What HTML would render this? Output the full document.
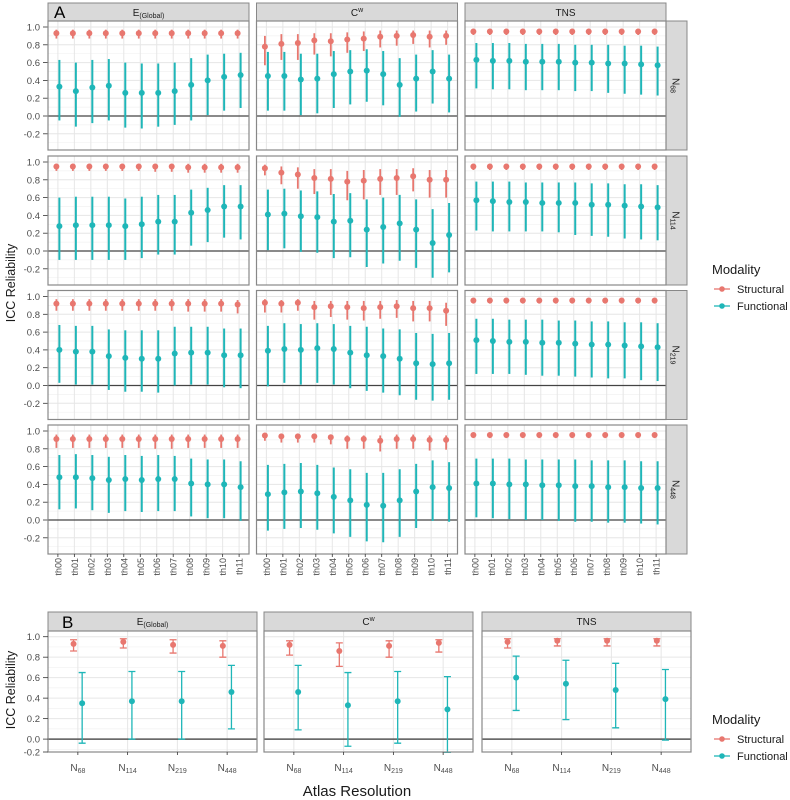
<!DOCTYPE html>
<html><head><meta charset="utf-8"><style>
body{margin:0;background:#fff;}
svg{display:block;font-family:"Liberation Sans",sans-serif;}
</style></head><body>
<svg id="chart" width="790" height="800" viewBox="0 0 790 800"></svg>
<script>
// ---- Panel A data: [row][col][threshold] ; rows N68,N114,N219,N448 ; cols E(Global), Cw, TNS
const thresholds = ["th00","th01","th02","th03","th04","th05","th06","th07","th08","th09","th10","th11"];
const rowLabels = ["68","114","219","448"];
const colLabels = ["E","C","TNS"];
const sMean = [
 [[.93,.93,.93,.93,.93,.93,.93,.93,.93,.93,.93,.93],[.78,.81,.82,.85,.84,.86,.87,.89,.90,.91,.89,.90],[.95,.95,.95,.95,.95,.95,.95,.95,.95,.95,.95,.95]],
 [[.95,.95,.95,.95,.95,.95,.95,.95,.94,.94,.94,.94],[.93,.88,.86,.82,.81,.78,.79,.81,.82,.84,.80,.80],[.95,.95,.95,.95,.95,.95,.95,.95,.95,.95,.95,.95]],
 [[.92,.92,.92,.92,.92,.92,.92,.92,.92,.92,.92,.91],[.93,.92,.93,.88,.89,.88,.87,.88,.89,.87,.87,.84],[.955,.955,.955,.955,.955,.955,.955,.955,.955,.955,.955,.955]],
 [[.91,.91,.91,.91,.91,.91,.91,.91,.91,.91,.91,.91],[.95,.94,.94,.94,.93,.91,.91,.89,.91,.91,.90,.90],[.955,.955,.955,.955,.955,.955,.955,.955,.955,.955,.955,.955]]
];
const sLo = [
 [[.87,.87,.87,.87,.87,.87,.87,.87,.87,.87,.87,.87],[.57,.63,.63,.69,.67,.71,.73,.77,.79,.81,.77,.80],[.91,.91,.91,.91,.91,.91,.91,.91,.91,.91,.91,.91]],
 [[.90,.90,.90,.90,.90,.90,.89,.89,.88,.88,.88,.88],[.85,.75,.70,.64,.63,.57,.58,.63,.63,.67,.60,.60],[.91,.91,.91,.91,.91,.91,.91,.91,.91,.91,.91,.91]],
 [[.84,.84,.84,.84,.84,.84,.84,.84,.83,.83,.83,.81],[.82,.82,.84,.74,.77,.74,.73,.75,.76,.72,.72,.67],[.92,.92,.92,.92,.92,.92,.92,.92,.92,.92,.92,.92]],
 [[.81,.81,.81,.81,.81,.81,.80,.80,.81,.81,.81,.81],[.89,.87,.87,.87,.85,.80,.80,.77,.80,.80,.78,.79],[.92,.92,.92,.92,.92,.92,.92,.92,.92,.92,.92,.92]]
];
const sHi = [
 [[.97,.97,.97,.97,.97,.97,.97,.97,.97,.97,.97,.97],[.90,.92,.92,.93,.93,.94,.95,.96,.96,.96,.96,.96],[.98,.98,.98,.98,.98,.98,.98,.98,.98,.98,.98,.98]],
 [[.98,.98,.98,.98,.98,.98,.98,.98,.98,.98,.98,.98],[.97,.95,.94,.92,.92,.90,.91,.92,.92,.93,.91,.91],[.98,.98,.98,.98,.98,.98,.98,.98,.98,.98,.98,.98]],
 [[.97,.97,.97,.97,.97,.97,.97,.97,.97,.97,.97,.96],[.97,.96,.97,.95,.95,.95,.95,.95,.96,.95,.95,.93],[.98,.98,.98,.98,.98,.98,.98,.98,.98,.98,.98,.98]],
 [[.96,.96,.96,.96,.96,.96,.96,.96,.96,.96,.96,.96],[.97,.96,.96,.96,.96,.95,.95,.95,.96,.96,.95,.95],[.98,.98,.98,.98,.98,.98,.98,.98,.98,.98,.98,.98]]
];
const fMean = [
 [[.33,.28,.32,.34,.26,.26,.26,.28,.35,.40,.44,.46],[.45,.45,.41,.42,.47,.50,.51,.47,.35,.42,.50,.42],[.63,.62,.62,.61,.61,.61,.60,.60,.59,.59,.58,.57]],
 [[.28,.29,.29,.29,.28,.30,.33,.33,.43,.46,.50,.50],[.41,.42,.39,.38,.33,.34,.24,.27,.31,.24,.09,.18],[.57,.56,.55,.55,.54,.54,.54,.52,.52,.51,.50,.49]],
 [[.40,.38,.38,.33,.31,.30,.30,.36,.37,.37,.34,.34],[.39,.41,.40,.42,.41,.37,.34,.33,.30,.25,.24,.25],[.51,.50,.49,.49,.48,.48,.47,.46,.46,.45,.44,.43]],
 [[.48,.48,.47,.45,.46,.45,.46,.46,.41,.40,.40,.37],[.29,.31,.32,.30,.26,.22,.17,.16,.22,.32,.37,.36],[.41,.41,.40,.40,.39,.39,.38,.38,.37,.37,.36,.36]]
];
const fLo = [
 [[-.05,-.12,-.08,-.05,-.13,-.14,-.12,-.10,-.05,.01,.06,.09],[.06,.06,.01,.03,.09,.13,.16,.12,-.01,.05,.14,.04],[.31,.30,.30,.29,.29,.29,.28,.28,.26,.25,.24,.23]],
 [[-.10,-.10,-.10,-.10,-.10,-.08,-.04,-.04,.06,.10,.15,.13],[.01,.03,-.01,-.02,-.08,-.07,-.18,-.14,-.11,-.19,-.30,-.24],[.23,.22,.22,.22,.22,.21,.18,.17,.16,.14,.13,.12]],
 [[.03,.01,.01,-.05,-.07,-.07,-.08,.00,.01,.01,-.02,-.03],[-.01,.03,.01,.03,.01,-.03,-.06,-.08,-.11,-.16,-.17,-.16],[.13,.13,.13,.12,.11,.11,.10,.09,.08,.08,.06,.05]],
 [[.12,.13,.11,.08,.10,.09,.10,.10,.04,.02,.02,-.01],[-.12,-.10,-.09,-.11,-.15,-.19,-.24,-.25,-.19,-.09,-.01,-.02],[.03,.02,.01,.00,.00,-.01,-.02,-.02,-.03,-.03,-.04,-.05]]
];
const fHi = [
 [[.63,.60,.63,.64,.60,.59,.59,.60,.65,.69,.70,.71],[.72,.72,.70,.70,.73,.74,.75,.73,.65,.69,.74,.69],[.82,.82,.82,.81,.81,.81,.80,.80,.80,.79,.79,.78]],
 [[.60,.61,.61,.61,.59,.61,.63,.63,.69,.71,.74,.74],[.69,.70,.68,.67,.64,.65,.58,.60,.63,.58,.47,.54],[.78,.78,.78,.77,.77,.77,.77,.76,.76,.75,.75,.74]],
 [[.68,.67,.67,.63,.62,.62,.62,.66,.66,.66,.64,.64],[.67,.70,.69,.70,.69,.67,.66,.64,.63,.59,.58,.59],[.75,.75,.74,.74,.74,.73,.73,.72,.72,.71,.71,.70]],
 [[.73,.74,.73,.71,.73,.72,.73,.72,.69,.68,.68,.66],[.62,.63,.64,.62,.59,.57,.53,.53,.57,.63,.67,.65],[.69,.69,.69,.68,.68,.68,.68,.67,.67,.67,.66,.66]]
];
// ---- Panel B data: [col][resolution]
const resLabels = ["68","114","219","448"];
const bSMean = [[.93,.95,.92,.91],[.92,.86,.91,.94],[.95,.96,.96,.96]];
const bSLo   = [[.86,.89,.84,.80],[.82,.71,.80,.85],[.89,.91,.91,.91]];
const bSHi   = [[.97,.98,.97,.96],[.96,.94,.96,.97],[.98,.98,.98,.98]];
const bFMean = [[.35,.37,.37,.46],[.46,.33,.37,.29],[.60,.54,.48,.39]];
const bFLo   = [[-.04,.00,.00,.10],[.09,-.07,-.04,-.13],[.28,.19,.11,-.01]];
const bFHi   = [[.65,.66,.66,.72],[.72,.65,.66,.61],[.81,.77,.74,.68]];
const yTicks = [-0.2,0,0.2,0.4,0.6,0.8,1.0];

const NS="http://www.w3.org/2000/svg";
const svg=document.getElementById('chart');
const RED="#e8776f", TEAL="#1fb6b8";
function mk(tag,attrs,parent){const e=document.createElementNS(NS,tag);for(const k in attrs)e.setAttribute(k,attrs[k]);(parent||svg).appendChild(e);return e;}
function colTitle(g,x,y,c,size){
  const t=mk('text',{x:x,y:y,'text-anchor':'middle','font-size':size,fill:'#1a1a1a'},g);
  if(c===0){t.textContent='E';const s=mk('tspan',{'font-size':size*0.7,dy:2},t);s.textContent='(Global)';}
  else if(c===1){t.textContent='C';const s=mk('tspan',{'font-size':size*0.7,dy:-4},t);s.textContent='w';}
  else t.textContent='TNS';
  return t;
}

// ---------- Panel A ----------
const aLeft=[48,256.5,465], aW=201, aTop=[21,156,290.5,425], aH=129;
const aStep=aW/12.2;
function ax(c,i){return aLeft[c]+(i+0.6)*aStep;}
function ay(r,v){return aTop[r]+6+(1-v)*89;}
for(let c=0;c<3;c++){
  const s=mk('rect',{x:aLeft[c],y:3,width:aW,height:18,fill:'#d9d9d9',stroke:'#888','stroke-width':1});
  
  
  const t=colTitle(svg,aLeft[c]+aW/2,16,c,10);
  
  
}
const lbA=mk('text',{x:54,y:18,'font-size':17,fill:'#000'});lbA.textContent='A';

for(let r=0;r<4;r++){
  const rs=mk('rect',{x:aLeft[2]+aW,y:aTop[r],width:21,height:aH,fill:'#d9d9d9',stroke:'#888','stroke-width':1});
  
  
  const cx=aLeft[2]+aW+10.5, cy=aTop[r]+aH/2;
  const rt=mk('text',{x:cx,y:cy,'text-anchor':'middle','font-size':10,fill:'#1a1a1a',transform:`rotate(90 ${cx} ${cy})`,dy:4});
  rt.textContent='N';const sub=mk('tspan',{'font-size':7,dy:2},rt);sub.textContent=rowLabels[r];
  
  
  // y tick labels
  for(const v of yTicks){
    const tl=mk('text',{x:40,y:ay(r,v)+3.5,'text-anchor':'end','font-size':9.5,fill:'#4d4d4d'});
    tl.textContent=v.toFixed(1);
    
    
    mk('line',{x1:43,x2:48,y1:ay(r,v),y2:ay(r,v),stroke:'#333','stroke-width':0.8});
  }
  for(let c=0;c<3;c++){
    const g=mk('g',{});
    
    
    mk('rect',{x:aLeft[c],y:aTop[r],width:aW,height:aH,fill:'#fff'},g);
    for(let k=0;k<yTicks.length;k++){
      const v=yTicks[k];
      mk('line',{x1:aLeft[c],x2:aLeft[c]+aW,y1:ay(r,v),y2:ay(r,v),stroke:'#e6e6e6','stroke-width':1},g);
      const m=v+0.1; if(ay(r,m)>aTop[r]) mk('line',{x1:aLeft[c],x2:aLeft[c]+aW,y1:ay(r,m),y2:ay(r,m),stroke:'#f2f2f2','stroke-width':0.7},g);
    }
    mk('line',{x1:aLeft[c],x2:aLeft[c]+aW,y1:ay(r,-0.3),y2:ay(r,-0.3),stroke:'#f2f2f2','stroke-width':0.7},g);
    for(let i=0;i<12;i++) mk('line',{x1:ax(c,i),x2:ax(c,i),y1:aTop[r],y2:aTop[r]+aH,stroke:'#e6e6e6','stroke-width':1},g);
    mk('line',{x1:aLeft[c],x2:aLeft[c]+aW,y1:ay(r,0),y2:ay(r,0),stroke:'#444','stroke-width':1.3},g);
    for(let i=0;i<12;i++){
      const xs=ax(c,i)-1.5, xf=ax(c,i)+1.5;
      const ls=mk('line',{x1:xs,x2:xs,y1:ay(r,sLo[r][c][i]),y2:ay(r,sHi[r][c][i]),stroke:RED,'stroke-width':1.8},g);
      
      const ps=mk('circle',{cx:xs,cy:ay(r,sMean[r][c][i]),r:3,fill:RED},g);
      
      const lf=mk('line',{x1:xf,x2:xf,y1:ay(r,fLo[r][c][i]),y2:ay(r,fHi[r][c][i]),stroke:TEAL,'stroke-width':2},g);
      
      const pf=mk('circle',{cx:xf,cy:ay(r,fMean[r][c][i]),r:3,fill:TEAL},g);
      
    }
    mk('rect',{x:aLeft[c],y:aTop[r],width:aW,height:aH,fill:'none',stroke:'#888','stroke-width':1.2},g);
  }
}
for(let c=0;c<3;c++){
  for(let i=0;i<12;i++){
    const x=ax(c,i), y=aTop[3]+aH+3;
    mk('line',{x1:x,x2:x,y1:aTop[3]+aH,y2:y,stroke:'#333','stroke-width':0.8});
    const t=mk('text',{x:x+3.5,y:y+1,'text-anchor':'end','font-size':9,fill:'#4d4d4d',transform:`rotate(-90 ${x+3.5} ${y+1})`});
    t.textContent=thresholds[i];
    
    
  }
}
const yt=mk('text',{x:15,y:283,'text-anchor':'middle','font-size':12.5,fill:'#1a1a1a',transform:'rotate(-90 15 283)'});
yt.textContent='ICC Reliability';

// ---------- Panel B ----------
const bLeft=[48,264,482], bW=209, bTop=631, bBot=752;
const bStep=bW/4.2;
function bx(c,j){return bLeft[c]+(j+0.6)*bStep;}
function by(v){return 636.7+(1-v)*102.4;}
for(let c=0;c<3;c++){
  const s=mk('rect',{x:bLeft[c],y:612,width:bW,height:19,fill:'#d9d9d9',stroke:'#888','stroke-width':1});
  
  const t=colTitle(svg,bLeft[c]+bW/2,625,c,10);
  
  const g=mk('g',{});
  
  mk('rect',{x:bLeft[c],y:bTop,width:bW,height:bBot-bTop,fill:'#fff'},g);
  for(const v of yTicks){ if(by(v)<bBot) mk('line',{x1:bLeft[c],x2:bLeft[c]+bW,y1:by(v),y2:by(v),stroke:'#e6e6e6','stroke-width':1},g);
    const m=v+0.1; if(by(m)>bTop&&by(m)<bBot) mk('line',{x1:bLeft[c],x2:bLeft[c]+bW,y1:by(m),y2:by(m),stroke:'#f2f2f2','stroke-width':0.7},g);}
  for(let j=0;j<4;j++) mk('line',{x1:bx(c,j),x2:bx(c,j),y1:bTop,y2:bBot,stroke:'#e6e6e6','stroke-width':1},g);
  mk('line',{x1:bLeft[c],x2:bLeft[c]+bW,y1:by(0),y2:by(0),stroke:'#555','stroke-width':1.5},g);
  for(let j=0;j<4;j++){
    const xs=bx(c,j)-4.3, xf=bx(c,j)+4.3;
    for(const [xx,lo,hi,mn,col,nm] of [[xs,bSLo[c][j],bSHi[c][j],bSMean[c][j],RED,'structural'],[xf,bFLo[c][j],bFHi[c][j],bFMean[c][j],TEAL,'functional']]){
      const e=mk('path',{d:`M${xx-3.5},${by(hi)}H${xx+3.5}M${xx},${by(hi)}V${by(lo)}M${xx-3.5},${by(lo)}H${xx+3.5}`,stroke:col,'stroke-width':1.3,fill:'none'},g);
      
      const p=mk('circle',{cx:xx,cy:by(mn),r:3,fill:col},g);
      
    }
  }
  mk('rect',{x:bLeft[c],y:bTop,width:bW,height:bBot-bTop,fill:'none',stroke:'#888','stroke-width':1.2},g);
  for(let j=0;j<4;j++){
    const x=bx(c,j);
    mk('line',{x1:x,x2:x,y1:bBot,y2:bBot+3,stroke:'#333','stroke-width':0.8});
    const t=mk('text',{x:x,y:771,'text-anchor':'middle','font-size':10,fill:'#4d4d4d'});
    t.textContent='N';const s=mk('tspan',{'font-size':7,dy:2},t);s.textContent=resLabels[j];
    
  }
}
for(const v of yTicks){
  const yy=Math.min(by(v),bBot);
  const tl=mk('text',{x:40,y:yy+3.5,'text-anchor':'end','font-size':9.5,fill:'#4d4d4d'});
  tl.textContent=v.toFixed(1);
  
  mk('line',{x1:43,x2:48,y1:yy,y2:yy,stroke:'#333','stroke-width':0.8});
}
const lbB=mk('text',{x:62,y:628,'font-size':17,fill:'#000'});lbB.textContent='B';

const yt2=mk('text',{x:15,y:690,'text-anchor':'middle','font-size':12.5,fill:'#1a1a1a',transform:'rotate(-90 15 690)'});
yt2.textContent='ICC Reliability';
const xt=mk('text',{x:357,y:796,'text-anchor':'middle','font-size':15,fill:'#1a1a1a'});
xt.textContent='Atlas Resolution';

// ---------- Legends ----------
function legend(x,y){
  const g=mk('g',{});
  
  const t=mk('text',{x:x,y:y,'font-size':13,fill:'#1a1a1a'},g);t.textContent='Modality';
  [['Structural',RED],['Functional',TEAL]].forEach(([n,col],k)=>{
    const yy=y+15+k*17;
    const e=mk('g',{},g);
    
    
    mk('line',{x1:x+2,x2:x+18,y1:yy,y2:yy,stroke:col,'stroke-width':1.3},e);
    mk('circle',{cx:x+10,cy:yy,r:2.8,fill:col},e);
    const tt=mk('text',{x:x+25,y:yy+4,'font-size':11,fill:'#1a1a1a'},e);tt.textContent=n;
  });
}
legend(712,274);
legend(712,724);
</script>
</body></html>
